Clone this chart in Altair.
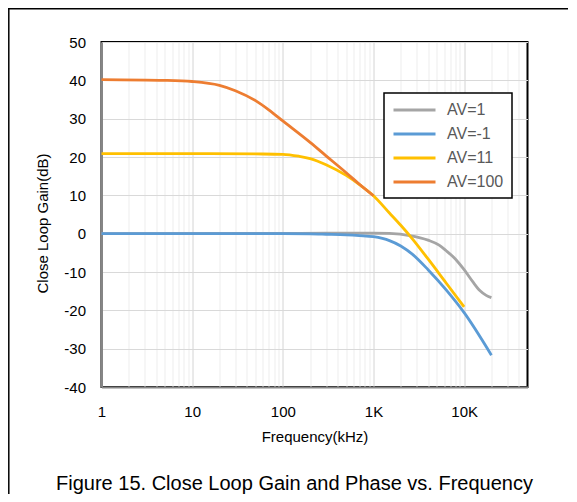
import altair as alt
import pandas as pd

# ---- data (frequency in kHz, gain in dB) ----
f_av1 = [1, 100, 300, 1000, 1500, 2500, 4000, 5300, 6300, 8000, 10000, 12500, 15000, 17500, 20000]
g_av1 = [0.0, 0.05, 0.15, 0.15, 0.05, -0.5, -1.7, -3.0, -4.4, -6.6, -9.4, -12.6, -14.9, -16.1, -16.7]

f_avm1 = [1, 10, 100, 200, 300, 500, 700, 1000, 1500, 2000, 2700, 4000, 6300, 10000, 20000]
g_avm1 = [0.0, 0.0, 0.0, -0.05, -0.15, -0.3, -0.5, -0.8, -1.8, -3.2, -5.4, -9.4, -14.6, -20.6, -31.7]

f_av11 = [1, 10, 50, 100, 150, 200, 300, 500, 700, 1000, 1500, 2000, 2700, 4000, 6300, 10000]
g_av11 = [20.9, 20.9, 20.8, 20.7, 20.2, 19.6, 18.0, 15.2, 12.8, 9.9, 5.4, 2.2, -1.4, -6.6, -12.8, -19.1]

f_av100 = [1, 5, 10, 20, 30, 50, 70, 100, 200, 300, 500, 700, 1000]
g_av100 = [40.2, 40.0, 39.7, 38.7, 37.3, 34.7, 32.3, 29.4, 23.8, 20.3, 15.9, 12.9, 9.9]

series_names = ["AV=1", "AV=-1", "AV=11", "AV=100"]
series_colors = ["#A5A5A5", "#5B9BD5", "#FFC000", "#ED7D31"]

x_ticks = [1, 10, 100, 1000, 10000]
x_grid = [1, 2, 3, 4, 5, 6, 7, 8, 9,
          10, 20, 30, 40, 50, 60, 70, 80, 90,
          100, 200, 300, 400, 500, 600, 700, 800, 900,
          1000, 2000, 3000, 4000, 5000, 6000, 7000, 8000, 9000,
          10000, 20000, 30000, 40000]
y_ticks = [-40, -30, -20, -10, 0, 10, 20, 30, 40, 50]

figure_title = "Figure 15. Close Loop Gain and Phase vs. Frequency"

rows = []
for name, fs, gs in zip(series_names,
                        [f_av1, f_avm1, f_av11, f_av100],
                        [g_av1, g_avm1, g_av11, g_av100]):
    for i, (f, g) in enumerate(zip(fs, gs)):
        rows.append({"series": name, "f": f, "g": g, "i": i})
df = pd.DataFrame(rows)

FONT = "Liberation Sans"
W, H = 426, 345

major_test = "indexof([1,10,100,1000,10000], datum.value) >= 0"

x_enc = alt.X(
    "f:Q",
    scale=alt.Scale(type="log", domain=[1, 50000], nice=False),
    axis=alt.Axis(
        values=x_grid,
        labelExpr="datum.value==1?'1':datum.value==10?'10':datum.value==100?'100':datum.value==1000?'1K':datum.value==10000?'10K':''",
        labelOverlap=False, labelFlush=False, labelBound=False,
        title="Frequency(kHz)",
        ticks=False, tickSize=0,
        labelPadding=17, titlePadding=10,
        gridColor={"condition": {"test": major_test, "value": "#D4D4D4"}, "value": "#EDEDED"},
        gridWidth=1,
        domainColor="#868686", domainWidth=2,
    ),
)
y_enc = alt.Y(
    "g:Q",
    scale=alt.Scale(domain=[-40, 50], nice=False, zero=False),
    axis=alt.Axis(
        values=y_ticks,
        labelExpr="'' + datum.value",
        title="Close Loop Gain(dB)",
        ticks=False, tickSize=0,
        labelPadding=16,
        titleX=-51, titleY=181,
        gridColor="#D9D9D9", gridWidth=1,
        domainColor="#868686", domainWidth=2,
    ),
)
color_enc = alt.Color(
    "series:N",
    scale=alt.Scale(domain=series_names, range=series_colors),
    sort=series_names,
    legend=alt.Legend(
        title=None, orient="none", legendX=282.5, legendY=51,
        symbolType="M-1,0H4.6", symbolSize=225, symbolStrokeWidth=3,
        labelFontSize=16, labelFont=FONT, labelColor="#595959",
        labelExpr="datum.label + '   '",
        labelOffset=37, padding=8, rowPadding=7,
        strokeColor="black", fillColor="white",
    ),
)

base = alt.Chart(df).mark_line(strokeWidth=2.8, interpolate="monotone").encode(
    x=x_enc, y=y_enc, color=color_enc, order="i:Q"
)
layers = [base.transform_filter(alt.datum.series == s) for s in series_names]

frame_df = pd.DataFrame({"title": [figure_title]})
top_border = alt.Chart(frame_df).mark_rule(color="black", strokeWidth=1.5).encode(
    x=alt.value(-93.5), x2=alt.value(480), y=alt.value(-33.2)
)
left_border = alt.Chart(frame_df).mark_rule(color="black", strokeWidth=1.5).encode(
    x=alt.value(-92.7), y=alt.value(-34), y2=alt.value(460)
)
title_text = alt.Chart(frame_df).mark_text(
    font=FONT, fontSize=20, color="black", align="center", baseline="alphabetic"
).encode(
    text="title:N", x=alt.value(193), y=alt.value(447.5)
)

chart = alt.layer(*layers, top_border, left_border, title_text).properties(
    width=W, height=H,
    autosize=alt.AutoSizeParams(type="none"),
    padding={"left": 93.5, "top": 34, "right": 40, "bottom": 107},
).configure_view(
    stroke="black", strokeWidth=2
).configure_axis(
    labelFont=FONT, titleFont=FONT, labelFontSize=15, titleFontSize=15,
    labelColor="black", titleColor="black", titleFontWeight="normal",
).configure_legend(
    strokeWidth=1.5
)

chart.save("out.html", embed_options={"renderer": "svg", "actions": False})
